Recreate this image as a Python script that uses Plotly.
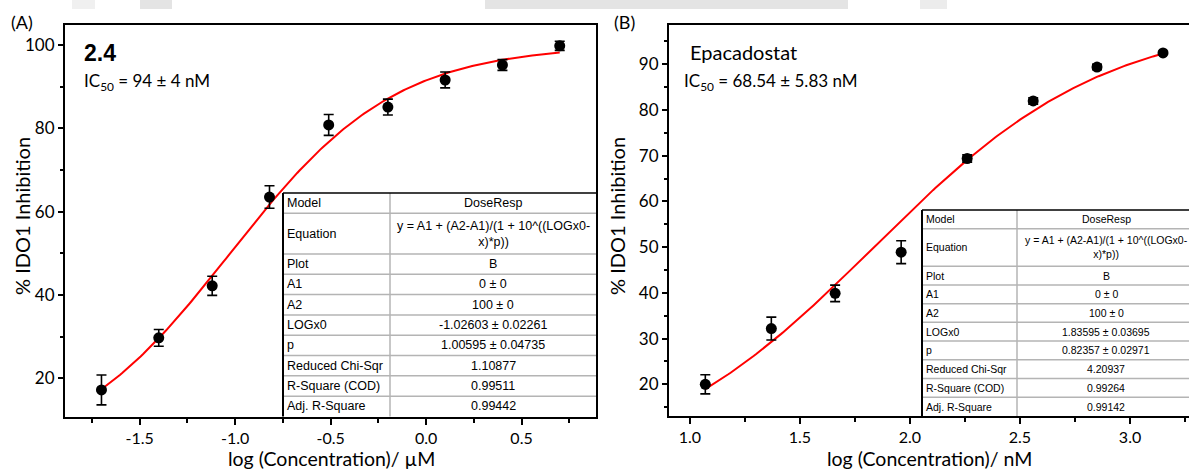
import numpy as np
import plotly.graph_objects as go

W, H = 1189, 471

# ---------------- data ----------------
# Panel A: compound 2.4, log concentration in uM
xA = [-1.70, -1.40, -1.12, -0.82, -0.51, -0.20, 0.10, 0.40, 0.70]
yA = [17.2, 29.7, 42.2, 63.5, 80.8, 85.1, 91.6, 95.2, 99.8]
eA = [3.6, 2.0, 2.3, 2.7, 2.5, 1.9, 1.9, 1.3, 1.1]
fitA = {"A1": 0.0, "A2": 100.0, "LOGx0": -1.02603, "p": 1.00595}

# Panel B: Epacadostat, log concentration in nM
xB = [1.07, 1.37, 1.66, 1.96, 2.26, 2.56, 2.85, 3.15]
yB = [20.0, 32.2, 39.9, 48.9, 69.4, 82.0, 89.4, 92.5]
eB = [2.1, 2.5, 1.8, 2.5, 0.8, 0.7, 0.6, 0.3]
fitB = {"A1": 0.0, "A2": 100.0, "LOGx0": 1.83595, "p": 0.82357}

# tick labels
xA_ticks = [-1.5, -1.0, -0.5, 0.0, 0.5]
xA_ticktext = ["-1.5", "-1.0", "-0.5", "0.0", "0.5"]
xA_minor = [-1.75, -1.25, -0.75, -0.25, 0.25, 0.75]
yA_ticks = [20, 40, 60, 80, 100]
yA_minor = [30, 50, 70, 90]
xB_ticks = [1.0, 1.5, 2.0, 2.5, 3.0]
xB_ticktext = ["1.0", "1.5", "2.0", "2.5", "3.0"]
xB_minor = [1.25, 1.75, 2.25, 2.75, 3.25]
yB_ticks = [20, 30, 40, 50, 60, 70, 80, 90]
yB_minor = [15, 25, 35, 45, 55, 65, 75, 85, 95]

# fit-report tables
row_labels = ["Model", "Equation", "Plot", "A1", "A2", "LOGx0", "p",
              "Reduced Chi-Sqr", "R-Square (COD)", "Adj. R-Square"]
eq_text = "y = A1 + (A2-A1)/(1 + 10^((LOGx0-<br>x)*p))"
valsA = ["DoseResp", eq_text, "B", "0 ± 0", "100 ± 0", "-1.02603 ± 0.02261",
         "1.00595 ± 0.04735", "1.10877", "0.99511", "0.99442"]
valsB = ["DoseResp", eq_text, "B", "0 ± 0", "100 ± 0", "1.83595 ± 0.03695",
         "0.82357 ± 0.02971", "4.20937", "0.99264", "0.99142"]


def dose_resp(x, f):
    x = np.asarray(x)
    return f["A1"] + (f["A2"] - f["A1"]) / (1 + 10 ** ((f["LOGx0"] - x) * f["p"]))


def fx(p):
    return p / W


def fy(p):
    return 1 - p / H


AXF = "Lato, 'Open Sans', sans-serif"
TBF = "'Liberation Sans', Arial, sans-serif"

fig = go.Figure()

cxA = np.linspace(min(xA), max(xA), 200)
cxB = np.linspace(min(xB), max(xB), 200)

fig.add_trace(go.Scatter(x=cxA, y=dose_resp(cxA, fitA), mode="lines",
                         line=dict(color="#ff0000", width=2), xaxis="x", yaxis="y",
                         showlegend=False, hoverinfo="skip"))
fig.add_trace(go.Scatter(x=xA, y=yA, mode="markers",
                         marker=dict(color="black", size=11),
                         error_y=dict(type="data", array=eA, color="black", thickness=1.6, width=5),
                         xaxis="x", yaxis="y", showlegend=False))
fig.add_trace(go.Scatter(x=cxB, y=dose_resp(cxB, fitB), mode="lines",
                         line=dict(color="#ff0000", width=2), xaxis="x2", yaxis="y2",
                         showlegend=False, hoverinfo="skip"))
fig.add_trace(go.Scatter(x=xB, y=yB, mode="markers",
                         marker=dict(color="black", size=11),
                         error_y=dict(type="data", array=eB, color="black", thickness=1.6, width=5),
                         xaxis="x2", yaxis="y2", showlegend=False))

common_ax = dict(showline=True, linewidth=2, linecolor="black", showgrid=False, zeroline=False,
                 ticks="outside", tickwidth=1.5, tickcolor="black")
xfont = dict(family=AXF, size=16, color="black")
yfont = dict(family=AXF, size=17, color="black")

fig.update_layout(
    width=W, height=H, margin=dict(l=0, r=0, t=0, b=0),
    paper_bgcolor="white", plot_bgcolor="white",
    xaxis=dict(domain=[fx(65), fx(596)], range=[-1.891, 0.89], anchor="y", mirror=True,
               tickmode="array", tickvals=xA_ticks, ticktext=xA_ticktext, ticklen=6, tickfont=xfont,
               minor=dict(tickmode="array", tickvals=xA_minor, ticks="outside", ticklen=4,
                          tickwidth=1.5, tickcolor="black", showgrid=False),
               **common_ax),
    yaxis=dict(domain=[fy(417), fy(25)], range=[10.7, 104.8], anchor="x", mirror=True,
               tickmode="array", tickvals=yA_ticks, ticklen=5, tickfont=yfont,
               minor=dict(tickmode="array", tickvals=yA_minor, ticks="outside", ticklen=3,
                          tickwidth=1.5, tickcolor="black", showgrid=False),
               **common_ax),
    xaxis2=dict(domain=[fx(669), 1.0], range=[0.905, 3.268], anchor="y2", mirror=True,
                tickmode="array", tickvals=xB_ticks, ticktext=xB_ticktext, ticklen=6, tickfont=xfont,
                minor=dict(tickmode="array", tickvals=xB_minor, ticks="outside", ticklen=4,
                           tickwidth=1.5, tickcolor="black", showgrid=False),
                **common_ax),
    yaxis2=dict(domain=[fy(416), fy(25)], range=[13.07, 98.6], anchor="x2", mirror=False,
                tickmode="array", tickvals=yB_ticks, ticklen=5, tickfont=yfont,
                minor=dict(tickmode="array", tickvals=yB_minor, ticks="outside", ticklen=3,
                           tickwidth=1.5, tickcolor="black", showgrid=False),
                **common_ax),
)

shapes = []
annots = []

# faint grey blocks along the top edge of the reference crop
for (x0, x1, c) in [(72, 95, "#f0f0f0"), (140, 172, "#e4e4e4"), (485, 848, "#e4e4e4"), (920, 947, "#ececec")]:
    shapes.append(dict(type="rect", xref="paper", yref="paper", x0=fx(x0), x1=fx(x1),
                       y0=fy(9), y1=fy(0), fillcolor=c, line=dict(width=0), layer="below"))


def add_text(x, y, text, size, family=AXF, xanchor="left", angle=0, bold=False, align="left"):
    if bold:
        text = "<b>" + text + "</b>"
    annots.append(dict(xref="paper", yref="paper", x=fx(x), y=fy(y), text=text, showarrow=False,
                       xanchor=xanchor, yanchor="middle", textangle=angle, align=align, borderpad=0,
                       font=dict(family=family, size=size, color="black")))


def draw_table(left, top, right, bottom, col, vcenter, labels, vals, fsize):
    h = (bottom - top) / 11.0
    shapes.append(dict(type="rect", xref="paper", yref="paper", x0=fx(left), x1=fx(right),
                       y0=fy(bottom), y1=fy(top), fillcolor="white", line=dict(width=0), layer="above"))
    y = top
    for i, (lab, val) in enumerate(zip(labels, vals)):
        rh = 2 * h if lab == "Equation" else h
        add_text(left + 3, y + rh / 2, lab, fsize, family=TBF)
        add_text(vcenter, y + rh / 2, val, fsize, family=TBF, xanchor="center", align="center")
        y += rh
        if i < len(labels) - 1:
            shapes.append(dict(type="line", xref="paper", yref="paper", x0=fx(left), x1=fx(right),
                               y0=fy(y), y1=fy(y), line=dict(color="#b4b4b4", width=1.5), layer="above"))
    shapes.append(dict(type="line", xref="paper", yref="paper", x0=fx(col), x1=fx(col),
                       y0=fy(top), y1=fy(bottom), line=dict(color="#b4b4b4", width=1.5), layer="above"))
    shapes.append(dict(type="line", xref="paper", yref="paper", x0=fx(left), x1=fx(left),
                       y0=fy(top), y1=fy(bottom), line=dict(color="black", width=2), layer="above"))
    shapes.append(dict(type="line", xref="paper", yref="paper", x0=fx(left), x1=fx(right),
                       y0=fy(top), y1=fy(top), line=dict(color="black", width=1.5), layer="above"))


draw_table(283, 193, 596, 416.5, 390, 493, row_labels, valsA, 12.5)
draw_table(922, 210, 1213, 416, 1017, 1106, row_labels, valsB, 10.5)

# panel labels and titles
add_text(10, 22, "(A)", 18)
add_text(613, 22, "(B)", 18)
add_text(83, 53, "2.4", 23, family="'Liberation Sans', Arial, sans-serif", bold=True)
add_text(83, 82, "IC<sub>50</sub> = 94 ± 4 nM", 17)
add_text(689, 52, "Epacadostat", 20)
add_text(683, 82, "IC<sub>50</sub> = 68.54 ± 5.83 nM", 17)

# axis titles
add_text(331, 458, "log (Concentration)/ µM", 19.5, xanchor="center")
add_text(929, 458, "log (Concentration)/ nM", 19.5, xanchor="center")
add_text(22, 216, "% IDO1 Inhibition", 20, xanchor="center", angle=-90)
add_text(617, 216, "% IDO1 Inhibition", 20, xanchor="center", angle=-90)

fig.update_layout(shapes=shapes, annotations=annots)
fig.write_html("out.html", config={"displayModeBar": False},
               post_script="document.body.style.margin='0px';document.body.style.overflow='hidden';")
